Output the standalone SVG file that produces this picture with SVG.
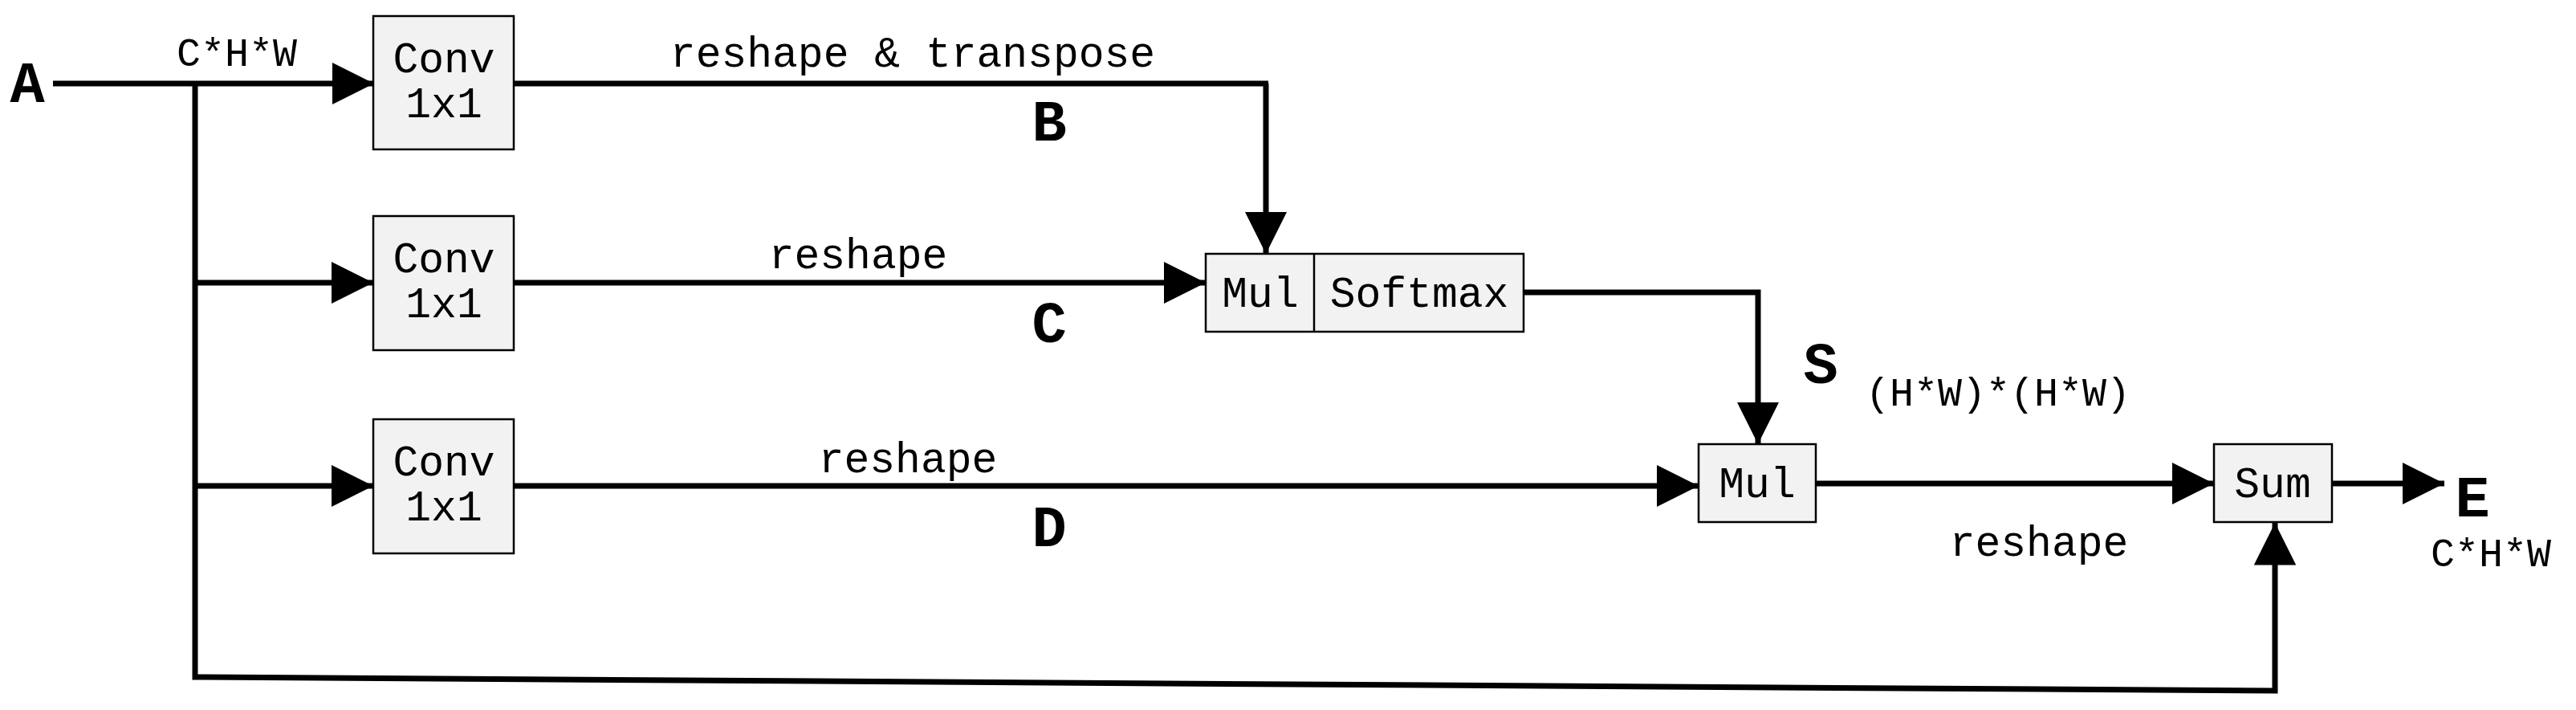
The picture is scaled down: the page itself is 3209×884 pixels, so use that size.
<svg xmlns="http://www.w3.org/2000/svg" width="3209" height="884" viewBox="0 0 3209 884">
<style>
.box{fill:#f2f2f2;stroke:#000;stroke-width:2.5}
.ln{fill:none;stroke:#000;stroke-width:7}
text{font-family:"Liberation Mono","DejaVu Sans Mono",monospace;fill:#000}
.t{font-size:53px}
.s{font-size:50px}
.big{font-size:72px;font-weight:bold}
</style>
<defs>
<marker id="ar" viewBox="0 0 10 10" refX="10" refY="5" markerWidth="7.5" markerHeight="7.5" markerUnits="strokeWidth" orient="auto">
<path d="M0,0 L10,5 L0,10 Z" fill="#000"/>
</marker>
</defs>
<g id="connectors">
<path class="ln" d="M66,104 H466" marker-end="url(#ar)"/>
<path class="ln" d="M243,104 V843 L2834,860 V651" marker-end="url(#ar)"/>
<path class="ln" d="M243,352 H465" marker-end="url(#ar)"/>
<path class="ln" d="M243,605 H465" marker-end="url(#ar)"/>
<path class="ln" d="M640,104 H1580 M1577,104 V316" marker-end="url(#ar)"/>
<path class="ln" d="M640,352 H1502" marker-end="url(#ar)"/>
<path class="ln" d="M640,605 H2116" marker-end="url(#ar)"/>
<path class="ln" d="M1898,364 H2190 V553" marker-end="url(#ar)"/>
<path class="ln" d="M2262,602 H2758" marker-end="url(#ar)"/>
<path class="ln" d="M2905,602 H3045" marker-end="url(#ar)"/>
</g>
<g id="conv1"><rect class="box" x="465" y="20" width="175" height="166"/><text class="t" x="553" y="90" text-anchor="middle">Conv</text><text class="t" x="553" y="146" text-anchor="middle">1x1</text></g>
<g id="conv2"><rect class="box" x="465" y="269" width="175" height="167"/><text class="t" x="553" y="339" text-anchor="middle">Conv</text><text class="t" x="553" y="395" text-anchor="middle">1x1</text></g>
<g id="conv3"><rect class="box" x="465" y="522" width="175" height="167"/><text class="t" x="553" y="592" text-anchor="middle">Conv</text><text class="t" x="553" y="648" text-anchor="middle">1x1</text></g>
<g id="mulsoftmax"><rect class="box" x="1502" y="316" width="396" height="97"/><line x1="1637" y1="316" x2="1637" y2="413" stroke="#000" stroke-width="2.5"/><text class="t" x="1570" y="382" text-anchor="middle">Mul</text><text class="t" x="1768" y="382" text-anchor="middle">Softmax</text></g>
<g id="mul2"><rect class="box" x="2116" y="553" width="146" height="97"/><text class="t" x="2189" y="619" text-anchor="middle">Mul</text></g>
<g id="sum"><rect class="box" x="2758" y="553" width="147" height="97"/><text class="t" x="2831" y="619" text-anchor="middle">Sum</text></g>
<g id="labels">
<text class="big" x="34" y="127" text-anchor="middle">A</text>
<text class="s" x="295" y="82" text-anchor="middle">C*H*W</text>
<text class="t" x="1137" y="83" text-anchor="middle">reshape &amp; transpose</text>
<text class="big" x="1307" y="175" text-anchor="middle">B</text>
<text class="t" x="1069" y="334" text-anchor="middle">reshape</text>
<text class="big" x="1307" y="426" text-anchor="middle">C</text>
<text class="t" x="1131" y="588" text-anchor="middle">reshape</text>
<text class="big" x="1307" y="680" text-anchor="middle">D</text>
<text class="big" x="2268" y="477" text-anchor="middle">S</text>
<text class="s" x="2489" y="505" text-anchor="middle">(H*W)*(H*W)</text>
<text class="t" x="2540" y="692" text-anchor="middle">reshape</text>
<text class="big" x="3080" y="643" text-anchor="middle">E</text>
<text class="s" x="3103" y="705" text-anchor="middle">C*H*W</text>
</g>
</svg>
